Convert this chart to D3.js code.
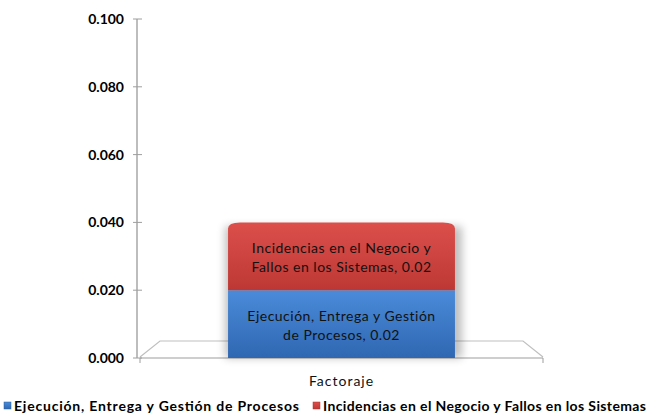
<!DOCTYPE html>
<html>
<head>
<meta charset="utf-8">
<script src="https://cdn.jsdelivr.net/npm/d3@7"></script>
<style>
  body { margin: 0; background: #fff; }
  svg { display: block; font-family: Lato, "Open Sans", sans-serif; }
</style>
</head>
<body>
<svg id="chart" width="657" height="415"></svg>
<script>
// Stacked 3D-style column chart (single category)
const categories = ["Factoraje"];
const seriesNames = [
  "Ejecución, Entrega y Gestión de Procesos",
  "Incidencias en el Negocio y Fallos en los Sistemas"
];
const seriesValues = [[0.02], [0.02]];
const seriesLabelLines = [
  ["Ejecución, Entrega y Gestión", "de Procesos, 0.02"],
  ["Incidencias en el Negocio y", "Fallos en los Sistemas, 0.02"]
];
const yTicks = [0, 0.02, 0.04, 0.06, 0.08, 0.1];

const colors = [
  { top: "#4a8bd9", bottom: "#2f67b2" },
  { top: "#dc4f4b", bottom: "#bd3834" }
];

const svg = d3.select("#chart");
const plot = { left: 140, right: 543, top: 19, bottom: 358 };
const depth = { dx: 20, dy: -16 };

const y = d3.scaleLinear().domain([0, 0.1]).range([plot.bottom, plot.top]);
const x = d3
  .scaleBand()
  .domain(categories)
  .range([plot.left, plot.right])
  .paddingInner(0)
  .paddingOuter(0.388);

const defs = svg.append("defs");
colors.forEach((c, i) => {
  const g = defs
    .append("linearGradient")
    .attr("id", `grad${i}`)
    .attr("x1", 0).attr("x2", 0).attr("y1", 0).attr("y2", 1);
  g.append("stop").attr("offset", "0%").attr("stop-color", c.top);
  g.append("stop").attr("offset", "100%").attr("stop-color", c.bottom);
});
defs
  .append("filter")
  .attr("id", "shadow")
  .attr("x", "-20%").attr("y", "-20%").attr("width", "140%").attr("height", "140%")
  .append("feGaussianBlur")
  .attr("stdDeviation", 4);

// Floor (3D base)
const y0 = y(0) - 1;
svg
  .append("path")
  .attr(
    "d",
    `M${plot.left},${y0} L${plot.left + depth.dx},${y0 + depth.dy} ` +
      `L${plot.right - depth.dx},${y0 + depth.dy} L${plot.right},${y0}`
  )
  .attr("fill", "none")
  .attr("stroke", "#bfbfbf")
  .attr("stroke-width", 1.2);

// Y axis
const yAxis = svg.append("g");
yAxis
  .append("line")
  .attr("x1", 137).attr("x2", 137)
  .attr("y1", y(0.1)).attr("y2", y(0))
  .attr("stroke", "#bdbdbd")
  .attr("stroke-width", 2);
yAxis
  .selectAll("line.tick")
  .data(yTicks)
  .enter()
  .append("line")
  .attr("class", "tick")
  .attr("x1", 133).attr("x2", 142)
  .attr("y1", d => y(d)).attr("y2", d => y(d))
  .attr("stroke", "#9e9e9e")
  .attr("stroke-width", 1);
yAxis
  .selectAll("text")
  .data(yTicks)
  .enter()
  .append("text")
  .attr("x", 124)
  .attr("y", d => y(d))
  .attr("dy", "0.35em")
  .attr("text-anchor", "end")
  .attr("font-size", 14)
  .attr("font-weight", 700)
  .attr("fill", "#000")
  .text(d => d3.format(".3f")(d));

// X axis
svg
  .append("line")
  .attr("x1", plot.left).attr("x2", plot.right)
  .attr("y1", y(0)).attr("y2", y(0))
  .attr("stroke", "#9e9e9e")
  .attr("stroke-width", 1.2);
[plot.left, plot.right].forEach(px => {
  svg
    .append("line")
    .attr("x1", px).attr("x2", px)
    .attr("y1", y(0)).attr("y2", y(0) + 5)
    .attr("stroke", "#9e9e9e");
});

// Stack and bars
const stackData = categories.map((c, ci) => {
  const row = { category: c };
  seriesNames.forEach((s, si) => (row[s] = seriesValues[si][ci]));
  return row;
});
const stacked = d3.stack().keys(seriesNames)(stackData);

// soft shadow behind bar
const total = d3.max(stackData, d => d3.sum(seriesNames, s => d[s]));
svg
  .append("rect")
  .attr("x", x(categories[0]) - 3)
  .attr("y", y(total) + 4)
  .attr("width", x.bandwidth() + 10)
  .attr("height", y(0) - y(total) - 4)
  .attr("fill", "#000")
  .attr("opacity", 0.25)
  .attr("filter", "url(#shadow)");

stacked.forEach((layer, si) => {
  const isTop = si === stacked.length - 1;
  layer.forEach(d => {
    const bx = x(d.data.category);
    const bw = x.bandwidth();
    const yt = y(d[1]);
    const yb = y(d[0]);
    const bevel = 6;
    const path = isTop
      ? `M${bx},${yb} L${bx},${yt + bevel} Q${bx},${yt} ${bx + bevel * 2},${yt} ` +
        `L${bx + bw - bevel * 2},${yt} Q${bx + bw},${yt} ${bx + bw},${yt + bevel} L${bx + bw},${yb} Z`
      : `M${bx},${yb} L${bx},${yt} L${bx + bw},${yt} L${bx + bw},${yb} Z`;
    svg.append("path").attr("d", path).attr("fill", `url(#grad${si})`);

    const label = svg
      .append("text")
      .attr("text-anchor", "middle")
      .attr("font-size", 14)
      .attr("fill", "#111")
      .attr("letter-spacing", 0.5);
    const cy = (yt + yb) / 2 + 1.5;
    seriesLabelLines[si].forEach((line, li) => {
      label
        .append("tspan")
        .attr("x", bx + bw / 2)
        .attr("y", cy + (li - 0.5) * 19)
        .attr("dy", "0.35em")
        .text(line);
    });
  });
});

// Category label
svg
  .append("text")
  .attr("x", x(categories[0]) + x.bandwidth() / 2)
  .attr("y", 381)
  .attr("dy", "0.35em")
  .attr("text-anchor", "middle")
  .attr("font-size", 14)
  .attr("letter-spacing", 1)
  .attr("fill", "#111")
  .text(categories[0]);

// Legend
const legendX = [4, 313];
const legendWidth = [285, 323];
seriesNames.forEach((s, i) => {
  const g = svg.append("g").attr("transform", `translate(${legendX[i]},402)`);
  g.append("rect")
    .attr("width", 7).attr("height", 7)
    .attr("fill", `url(#grad${i})`)
    .attr("stroke", d3.color(colors[i].bottom).darker(0.3))
    .attr("stroke-width", 0.5);
  g.append("text")
    .attr("x", 10)
    .attr("y", 4)
    .attr("dy", "0.35em")
    .attr("font-size", 14)
    .attr("font-weight", 700)
    .attr("textLength", legendWidth[i])
    .attr("lengthAdjust", "spacing")
    .attr("fill", "#000")
    .text(s);
});
</script>
</body>
</html>
